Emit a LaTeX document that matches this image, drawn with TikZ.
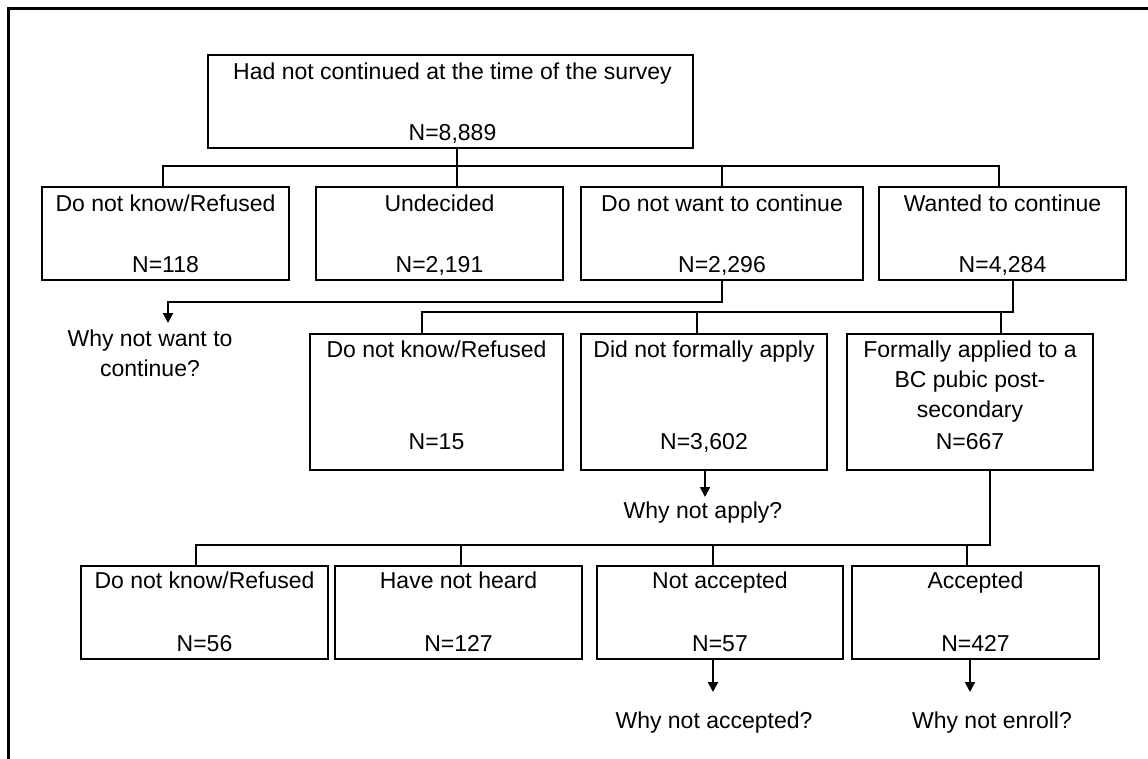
\documentclass[tikz,border=0pt]{standalone}
\usepackage{fontspec}
\setmainfont{Liberation Sans}
\usetikzlibrary{arrows.meta,calc}
\begin{document}
\begin{tikzpicture}[x=1pt,y=-1pt,
  box/.style={draw,line width=1.2pt,inner sep=0pt,rectangle},
  lbl/.style={inner sep=0pt,font=\fontsize{23}{30}\selectfont,align=center,anchor=base},
  con/.style={line width=1.2pt},
  arr/.style={line width=2pt,-{Triangle[length=10pt,width=10pt]}}]
\useasboundingbox (0,0) rectangle (1148,759);
\draw[line width=3pt] (1148,9) -- (8,9) -- (8,759);

% boxes
\node[box,minimum width=485pt,minimum height=93pt] (top) at (450.5,101.5) {};
\node[box,minimum width=247pt,minimum height=93pt] (b1) at (165.5,233.5) {};
\node[box,minimum width=247pt,minimum height=93pt] (b2) at (439.5,233.5) {};
\node[box,minimum width=282pt,minimum height=93pt] (b3) at (722,233.5) {};
\node[box,minimum width=247pt,minimum height=93pt] (b4) at (1002.5,233.5) {};
\node[box,minimum width=253pt,minimum height=136pt] (c1) at (436.5,402) {};
\node[box,minimum width=246pt,minimum height=136pt] (c2) at (704,402) {};
\node[box,minimum width=246pt,minimum height=136pt] (c3) at (970,402) {};
\node[box,minimum width=247pt,minimum height=93pt] (d1) at (204.5,612.5) {};
\node[box,minimum width=247pt,minimum height=93pt] (d2) at (458.5,612.5) {};
\node[box,minimum width=246pt,minimum height=93pt] (d3) at (720,612.5) {};
\node[box,minimum width=247pt,minimum height=93pt] (d4) at (975.5,612.5) {};

% labels
\node[lbl] (topt) at ($(top.north)+(2,25)$) {Had not continued at the time of the survey};
\node[lbl] (topn) at ($(top.south)+(2,-8)$) {N=8,889};
\node[lbl] (b1t) at ($(b1.north)+(0,25)$) {Do not know/Refused};
\node[lbl] (b1n) at ($(b1.south)+(0,-8)$) {N=118};
\node[lbl] (b2t) at ($(b2.north)+(0,25)$) {Undecided};
\node[lbl] (b2n) at ($(b2.south)+(0,-8)$) {N=2,191};
\node[lbl] (b3t) at ($(b3.north)+(0,25)$) {Do not want to continue};
\node[lbl] (b3n) at ($(b3.south)+(0,-8)$) {N=2,296};
\node[lbl] (b4t) at ($(b4.north)+(0,25)$) {Wanted to continue};
\node[lbl] (b4n) at ($(b4.south)+(0,-8)$) {N=4,284};
\node[lbl] (c1t) at ($(c1.north)+(0,24)$) {Do not know/Refused};
\node[lbl] (c1n) at ($(c1.south)+(0,-21)$) {N=15};
\node[lbl] (c2t) at ($(c2.north)+(0,24)$) {Did not formally apply};
\node[lbl] (c2n) at ($(c2.south)+(0,-21)$) {N=3,602};
\node[lbl] (c3t) at ($(c3.north)+(0,84)$) {Formally applied to a\\BC pubic post-\\secondary};
\node[lbl] (c3n) at ($(c3.south)+(0,-21)$) {N=667};
\node[lbl] (d1t) at ($(d1.north)+(0,23)$) {Do not know/Refused};
\node[lbl] (d1n) at ($(d1.south)+(0,-8)$) {N=56};
\node[lbl] (d2t) at ($(d2.north)+(0,23)$) {Have not heard};
\node[lbl] (d2n) at ($(d2.south)+(0,-8)$) {N=127};
\node[lbl] (d3t) at ($(d3.north)+(0,23)$) {Not accepted};
\node[lbl] (d3n) at ($(d3.south)+(0,-8)$) {N=57};
\node[lbl] (d4t) at ($(d4.north)+(0,23)$) {Accepted};
\node[lbl] (d4n) at ($(d4.south)+(0,-8)$) {N=427};
\node[lbl] (q1) at (150,376) {Why not want to\\continue?};
\node[lbl] (q2) at (703,518) {Why not apply?};
\node[lbl] (q3) at (714,728) {Why not accepted?};
\node[lbl] (q4) at (992,728) {Why not enroll?};

% level 1 connectors
\coordinate (j0) at (457,166);
\coordinate (t1) at (163,166);
\coordinate (t4) at (999,166);
\draw[con] (top.south -| j0) -- (b2.north -| j0);
\draw[con] (b1.north -| t1) -- (t1) -- (t4) -- (b4.north -| t4);
\draw[con] (b3.north) -- (b3.north |- j0);

% why not want to continue
\coordinate (k1) at (168,302);
\coordinate (k1e) at (168,323);
\draw[arr] (b3.south) |- (k1) -- (k1e);

% level 2 connectors
\coordinate (j1) at (1013,312);
\coordinate (u1) at (422,312);
\coordinate (u2) at (697,312);
\coordinate (u3) at (1001,312);
\draw[con] (b4.south -| j1) -- (j1) -- (u1) -- (c1.north -| u1);
\draw[con] (u2) -- (c2.north -| u2);
\draw[con] (u3) -- (c3.north -| u3);

% why not apply
\coordinate (k2) at (705,497);
\draw[arr] (c2.south -| k2) -- (k2);

% level 3 connectors
\coordinate (j2) at (990,545);
\coordinate (v1) at (196,545);
\coordinate (v2) at (461,545);
\coordinate (v3) at (713,545);
\coordinate (v4) at (967,545);
\draw[con] (c3.south -| j2) -- (j2) -- (v1) -- (d1.north -| v1);
\draw[con] (v2) -- (d2.north -| v2);
\draw[con] (v3) -- (d3.north -| v3);
\draw[con] (v4) -- (d4.north -| v4);

% final arrows
\coordinate (k3) at (713,692);
\coordinate (k4) at (970,692);
\draw[arr] (d3.south -| k3) -- (k3);
\draw[arr] (d4.south -| k4) -- (k4);
\end{tikzpicture}
\end{document}
